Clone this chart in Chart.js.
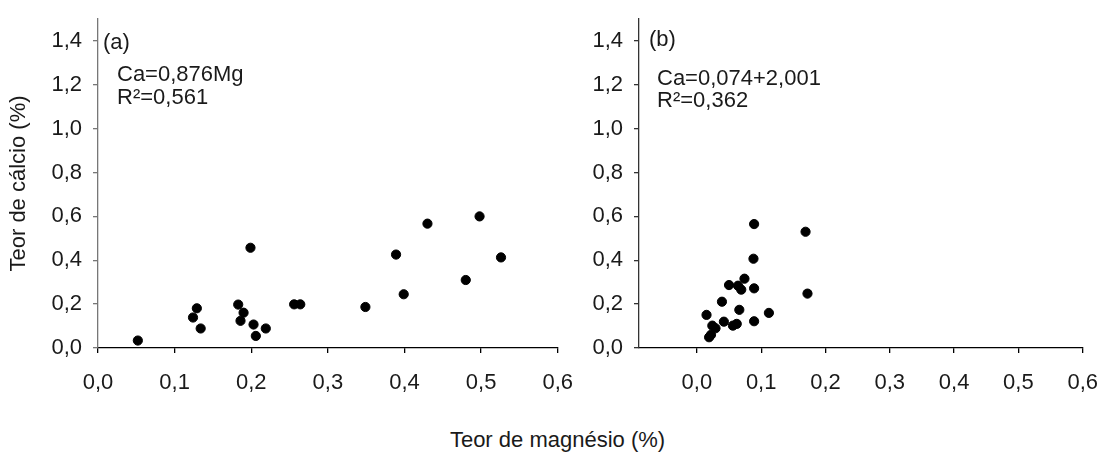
<!DOCTYPE html>
<html>
<head>
<meta charset="utf-8">
<script src="https://cdn.jsdelivr.net/npm/chart.js@4.4.1/dist/chart.umd.min.js"></script>
<style>
  body { margin: 0; background: #fff; width: 1115px; height: 457px; position: relative; overflow: hidden;
         font-family: "Liberation Sans", Arial, sans-serif; }
  #ca { position: absolute; left: 0; top: 0; }
  #cb { position: absolute; left: 560px; top: 0; }
  #xtitle { position: absolute; left: 0; width: 1115px; top: 427px; text-align: center; font-size: 22px; color: #1a1a1a; }
</style>
</head>
<body>
<canvas id="ca" width="590" height="400"></canvas>
<canvas id="cb" width="555" height="400"></canvas>
<div id="xtitle">Teor de magnésio (%)</div>
<script>
// painel (a)
const mgA = [0.052, 0.129, 0.124, 0.134, 0.199, 0.183, 0.190, 0.186, 0.203, 0.206, 0.219,
             0.256, 0.264, 0.349, 0.389, 0.399, 0.430, 0.480, 0.498, 0.526];
const caA = [0.034, 0.181, 0.139, 0.089, 0.457, 0.198, 0.161, 0.124, 0.107, 0.055, 0.089,
             0.199, 0.199, 0.187, 0.426, 0.245, 0.567, 0.310, 0.600, 0.413];
// painel (b)
const mgB = [0.169, 0.089, 0.088, 0.074, 0.050, 0.064, 0.069, 0.089, 0.039, 0.172, 0.015,
             0.066, 0.112, 0.024, 0.029, 0.042, 0.056, 0.062, 0.089, 0.022, 0.019];
const caB = [0.530, 0.565, 0.407, 0.316, 0.287, 0.284, 0.266, 0.272, 0.211, 0.248, 0.151,
             0.174, 0.160, 0.102, 0.090, 0.120, 0.102, 0.110, 0.122, 0.060, 0.049];

const xTicks = [0, 0.1, 0.2, 0.3, 0.4, 0.5, 0.6];
const yTicks = [0, 0.2, 0.4, 0.6, 0.8, 1.0, 1.2, 1.4];
const notasA = ['(a)', 'Ca=0,876Mg', 'R²=0,561'];
const notasB = ['(b)', 'Ca=0,074+2,001', 'R²=0,362'];

const FONTE = '"Liberation Sans", Arial, sans-serif';
const virgula = v => Number(v).toFixed(1).replace('.', ',');

// escreve as anotacoes no canto superior esquerdo
const notasPlugin = {
  id: 'notas',
  afterDraw(chart) {
    const o = chart.options.plugins.notas;
    if (!o) return;
    const ctx = chart.ctx;
    const left = chart.chartArea.left;
    ctx.save();
    ctx.fillStyle = '#1a1a1a';
    ctx.font = '22px ' + FONTE;
    ctx.textBaseline = 'middle';
    o.linhas.forEach((t, i) => ctx.fillText(t, left + o.pos[i][0], o.pos[i][1]));
    ctx.restore();
  }
};

function montarPainel(id, mg, ca, xMin, largY, padDir, tituloY, linhas, pos, corY) {
  new Chart(document.getElementById(id), {
    type: 'scatter',
    data: {
      datasets: [{
        data: mg.map((x, i) => ({ x: x, y: ca[i] })),
        backgroundColor: '#000',
        borderColor: '#000',
        pointRadius: 4.6,
        pointHoverRadius: 4.6
      }]
    },
    options: {
      responsive: false,
      animation: false,
      events: [],
      layout: { padding: { top: 19, right: padDir, left: 0, bottom: 0 } },
      plugins: {
        legend: { display: false },
        tooltip: { enabled: false },
        notas: { linhas: linhas, pos: pos }
      },
      scales: {
        x: {
          type: 'linear',
          min: xMin,
          max: 0.6,
          afterBuildTicks: s => { s.ticks = xTicks.map(v => ({ value: v })); },
          afterFit: s => { s.height = 52; },
          border: { color: '#000', width: 1.3 },
          grid: { drawOnChartArea: false, drawTicks: true, tickLength: 5, color: '#000', lineWidth: 1.3 },
          ticks: { color: '#1a1a1a', font: { family: FONTE, size: 22 }, padding: 17, maxRotation: 0,
                   callback: v => virgula(v) }
        },
        y: {
          type: 'linear',
          min: 0,
          max: 1.5,
          afterBuildTicks: s => { s.ticks = yTicks.map(v => ({ value: v })); },
          afterFit: s => { s.width = largY; s.paddingTop = 0; s.paddingBottom = 0; },
          border: { color: corY, width: 1.3 },
          grid: { drawOnChartArea: false, drawTicks: true, tickLength: 5, color: corY, lineWidth: 1.3 },
          ticks: { color: '#1a1a1a', font: { family: FONTE, size: 22 }, padding: 11,
                   callback: v => virgula(v) },
          title: { display: tituloY, text: 'Teor de cálcio (%)', color: '#1a1a1a',
                   font: { family: FONTE, size: 22 }, padding: { top: 6, bottom: 0 } }
        }
      }
    },
    plugins: [notasPlugin]
  });
}

montarPainel('ca', mgA, caA, 0, 98, 32, true, notasA, [[5, 43], [19, 75], [19, 98]], '#777');
montarPainel('cb', mgB, caB, -0.09, 79, 17, false, notasB, [[10, 40], [18, 79], [18, 101]], '#333');
</script>
</body>
</html>
